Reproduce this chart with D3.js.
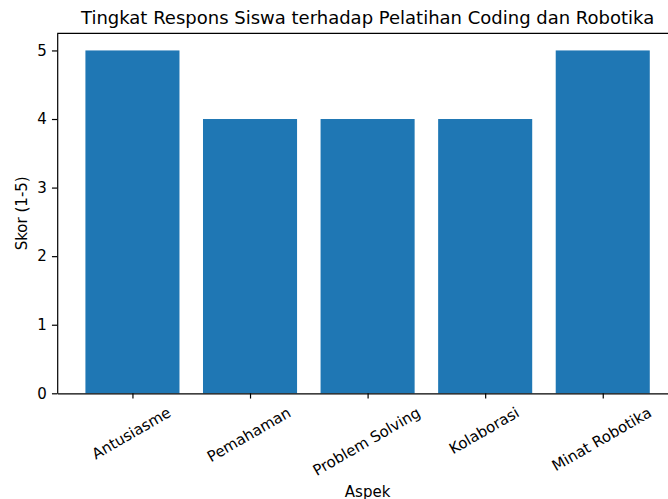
<!DOCTYPE html>
<html>
<head>
<meta charset="utf-8">
<script src="https://cdn.jsdelivr.net/npm/d3@7"></script>
<style>
  body { margin: 0; background: #fff; }
  svg { display: block; font-family: "DejaVu Sans", sans-serif; }
</style>
</head>
<body>
<div id="chart"></div>
<script>
// data
const categories = ["Antusiasme", "Pemahaman", "Problem Solving", "Kolaborasi", "Minat Robotika"];
const scores = [5, 4, 4, 4, 5];
const yTicks = [0, 1, 2, 3, 4, 5];

const W = 668, H = 499;
const pt = 1.5;           // px per pt (~108 dpi)
const fs = 10 * pt;
const tickLen = 3.5 * pt, tickPad = 3.5 * pt;
const lw = 0.8 * pt;

const plot = { left: 57.2, right: 678, top: 33.3, bottom: 393.3 };

const svg = d3.select("#chart").append("svg")
  .attr("width", W)
  .attr("height", H);

// scales (matplotlib-like 5% margins)
const x = d3.scaleLinear()
  .domain([-0.64, 4.64])
  .range([plot.left, plot.right]);

const y = d3.scaleLinear()
  .domain([0, 5.25])
  .range([plot.bottom, plot.top]);

// bars
svg.selectAll(".bar")
  .data(scores)
  .enter()
  .append("rect")
  .attr("class", "bar")
  .attr("x", (d, i) => x(i - 0.4))
  .attr("y", (d) => y(d))
  .attr("width", x(0.4) - x(-0.4))
  .attr("height", (d) => y(0) - y(d))
  .attr("fill", "#1f77b4");

// y axis
const yAxis = d3.axisLeft(y)
  .tickValues(yTicks)
  .tickFormat(d3.format("d"))
  .tickSize(tickLen)
  .tickPadding(tickPad)
  .tickSizeOuter(0);

const gy = svg.append("g")
  .attr("transform", `translate(${plot.left},0)`)
  .call(yAxis);
gy.selectAll("text").attr("font-size", fs).attr("font-family", "DejaVu Sans").attr("fill", "#000");

// x axis
const xAxis = d3.axisBottom(x)
  .tickValues(d3.range(categories.length))
  .tickFormat((i) => categories[i])
  .tickSize(tickLen)
  .tickPadding(tickPad)
  .tickSizeOuter(0);

const gx = svg.append("g")
  .attr("transform", `translate(0,${plot.bottom})`)
  .call(xAxis);

// rotate labels 30deg, centered like matplotlib (rotate then align bbox)
const labelTop = tickLen + tickPad;
const lineH = fs * 1.164;
const a = Math.PI / 6;
let maxBox = 0;
gx.selectAll("text")
  .attr("font-size", fs)
  .attr("font-family", "DejaVu Sans")
  .attr("fill", "#000")
  .attr("text-anchor", "middle")
  .attr("dy", null)
  .attr("dominant-baseline", "central")
  .each(function () {
    const w = this.getComputedTextLength();
    const boxH = w * Math.sin(a) + lineH * Math.cos(a);
    maxBox = Math.max(maxBox, boxH);
    d3.select(this)
      .attr("y", 0)
      .attr("transform", `translate(-1.5,${labelTop + boxH / 2}) rotate(-30)`);
  });

[gx, gy].forEach((g) => {
  g.selectAll(".domain").attr("stroke", "#000").attr("stroke-width", lw);
  g.selectAll(".tick line").attr("stroke", "#000").attr("stroke-width", lw);
});

// top spine
svg.append("line")
  .attr("x1", plot.left).attr("x2", plot.right)
  .attr("y1", plot.top).attr("y2", plot.top)
  .attr("stroke", "#000").attr("stroke-width", lw);

// axis labels
svg.append("text")
  .attr("x", (plot.left + plot.right) / 2)
  .attr("y", plot.bottom + labelTop + maxBox + 4 * pt + fs * 0.76)
  .attr("text-anchor", "middle")
  .attr("font-size", fs)
  .text("Aspek");

svg.append("text")
  .attr("transform", `translate(22,${(plot.top + plot.bottom) / 2}) rotate(-90)`)
  .attr("text-anchor", "middle")
  .attr("dominant-baseline", "central")
  .attr("font-size", fs)
  .text("Skor (1-5)");

// title
svg.append("text")
  .attr("x", (plot.left + plot.right) / 2)
  .attr("y", plot.top - 6 * pt)
  .attr("text-anchor", "middle")
  .attr("font-size", 12 * pt)
  .text("Tingkat Respons Siswa terhadap Pelatihan Coding dan Robotika");
</script>
</body>
</html>
